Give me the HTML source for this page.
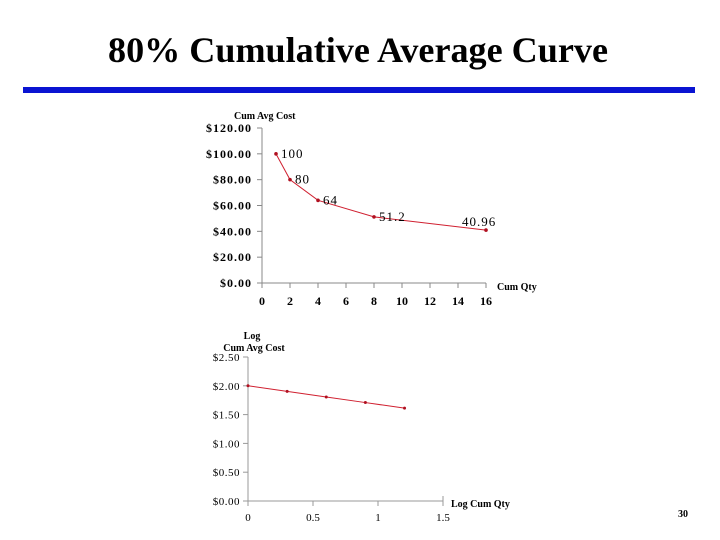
<!DOCTYPE html>
<html><head><meta charset="utf-8"><style>
body{margin:0;background:#fff;}
svg{display:block;font-family:"Liberation Serif",serif;}
</style></head><body>
<svg width="720" height="540" viewBox="0 0 720 540">
<text x="358" y="62" text-anchor="middle" font-size="36" font-weight="bold" textLength="500" lengthAdjust="spacingAndGlyphs">80% Cumulative Average Curve</text>
<rect x="23" y="87" width="672" height="6" fill="#0a14d2"/>
<g id="c1"></g>
<g id="c2"></g>
<text x="683" y="517" font-size="10" font-weight="bold" text-anchor="middle">30</text>
</svg>
<script>
const qty=[1,2,4,8,16];
const cost=[100,80,64,51.2,40.96];
const costLabels=['100','80','64','51.2','40.96'];
const yTicks1=[0,20,40,60,80,100,120];
const xTicks1=[0,2,4,6,8,10,12,14,16];
const logQty=[0,0.301,0.602,0.903,1.204];
const logCost=[2,1.903,1.806,1.709,1.612];
const yTicks2=[0,0.5,1,1.5,2,2.5];
const xTicks2=[0,0.5,1,1.5];
const xTickLabels2=['0','0.5','1','1.5'];
const NS='http://www.w3.org/2000/svg';
function mk(p,t,a,txt){const e=document.createElementNS(NS,t);for(const k in a)e.setAttribute(k,a[k]);if(txt!==undefined)e.textContent=txt;p.appendChild(e);return e;}
// chart 1
(function(){
const g=document.getElementById('c1');
const X=v=>262+v*14, Y=v=>283-v*155/120;
let e=mk(g,'line',{x1:262,y1:Y(120),x2:262,y2:283,stroke:'#888'});

e=mk(g,'line',{x1:262,y1:283,x2:X(16),y2:283,stroke:'#888'});

yTicks1.forEach(v=>{mk(g,'line',{x1:257,y1:Y(v),x2:262,y2:Y(v),stroke:'#888'});
e=mk(g,'text',{x:252,y:Y(v)+4,'text-anchor':'end','font-size':12,'font-weight':'bold','letter-spacing':'1'},'$'+v.toFixed(2));
});
xTicks1.forEach(v=>{mk(g,'line',{x1:X(v),y1:283,x2:X(v),y2:288,stroke:'#888'});
e=mk(g,'text',{x:X(v),y:305,'text-anchor':'middle','font-size':12,'font-weight':'bold'},String(v));
});
e=mk(g,'polyline',{points:qty.map((q,i)=>X(q)+','+Y(cost[i])).join(' '),fill:'none',stroke:'#d02030','stroke-width':1});

qty.forEach((q,i)=>{e=mk(g,'circle',{cx:X(q),cy:Y(cost[i]),r:1.8,fill:'#b01020'});

e=mk(g,'text',{x:X(q)+(i==4?-24:5),y:Y(cost[i])+(i==4?-4:4),'font-size':13,'letter-spacing':'1'},costLabels[i]);
});
e=mk(g,'text',{x:234,y:119,'font-size':10,'font-weight':'bold'},'Cum Avg Cost');

e=mk(g,'text',{x:497,y:290,'font-size':10,'font-weight':'bold'},'Cum Qty');

})();
// chart 2
(function(){
const g=document.getElementById('c2');
const X=v=>248+v*130, Y=v=>501-v*57.6;
let e=mk(g,'line',{x1:248,y1:Y(2.5),x2:248,y2:501,stroke:'#999'});

e=mk(g,'line',{x1:248,y1:501,x2:X(1.5),y2:501,stroke:'#999'});

yTicks2.forEach(v=>{mk(g,'line',{x1:243,y1:Y(v),x2:248,y2:Y(v),stroke:'#999'});
e=mk(g,'text',{x:240,y:Y(v)+4,'text-anchor':'end','font-size':11,'letter-spacing':'0.5'},'$'+v.toFixed(2));
});
xTicks2.forEach((v,i)=>{mk(g,'line',{x1:X(v),y1:(i==3?496:501),x2:X(v),y2:506,stroke:'#999'});
e=mk(g,'text',{x:X(v),y:521,'text-anchor':'middle','font-size':11},xTickLabels2[i]);
});
e=mk(g,'polyline',{points:logQty.map((q,i)=>X(q)+','+Y(logCost[i])).join(' '),fill:'none',stroke:'#d02030','stroke-width':1});

logQty.forEach((q,i)=>{e=mk(g,'circle',{cx:X(q),cy:Y(logCost[i]),r:1.5,fill:'#b01020'});
});
e=mk(g,'text',{x:252,y:339,'text-anchor':'middle','font-size':10,'font-weight':'bold'},'Log');

e=mk(g,'text',{x:254,y:351,'text-anchor':'middle','font-size':10,'font-weight':'bold'},'Cum Avg Cost');

e=mk(g,'text',{x:451,y:507,'font-size':10,'font-weight':'bold'},'Log Cum Qty');

})();
</script>
</body></html>
